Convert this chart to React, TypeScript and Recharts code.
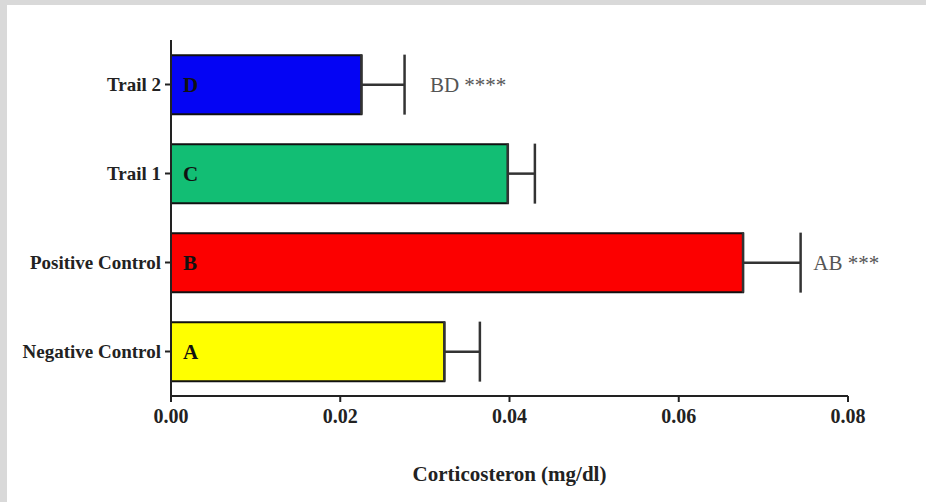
import React from 'react';
import { BarChart, Bar, XAxis, YAxis, ErrorBar, LabelList, Cell, Label } from 'recharts';

const categories = ['Trail 2', 'Trail 1', 'Positive Control', 'Negative Control'];
const means = [0.0225, 0.0398, 0.0676, 0.0323];
const sem = [0.0051, 0.0032, 0.0068, 0.0042];
const letters = ['D', 'C', 'B', 'A'];
const notes = ['BD ****', '', 'AB ***', ''];
const noteAt = [0.0306, 0, 0.0759, 0];
const colors = ['#0404F4', '#12BE74', '#FC0000', '#FFFF00'];
const xTicks = [0, 0.02, 0.04, 0.06, 0.08];

const FONT = '"Liberation Serif", "Times New Roman", serif';

const data = categories.map((name, i) => ({
  name,
  value: means[i],
  err: [0, sem[i]],
  letter: letters[i],
  note: notes[i],
}));

const NoteLabel = (props: any) => {
  const { x, y, width, height, value } = props;
  if (!value) return null;
  const i = notes.indexOf(value);
  if (i < 0) return null;
  const pxPerUnit = Number(width) / means[i];
  const tx = Number(x) + noteAt[i] * pxPerUnit;
  const ty = Number(y) + Number(height) / 2;
  return (
    <text x={tx} y={ty} dominantBaseline="central" fill="#555" fontSize={21} fontFamily={FONT}>
      {value}
    </text>
  );
};

export default function App() {
  return (
    <div style={{ position: 'absolute', top: 0, left: 0, width: 926, height: 502, background: '#d9d9d9' }}>
      <div style={{ position: 'absolute', top: 5, left: 7, width: 919, height: 497, background: '#ffffff' }} />
      <div style={{ position: 'absolute', top: 0, left: 0 }}>
        <BarChart
          layout="vertical"
          width={926}
          height={502}
          data={data}
          margin={{ top: 40, right: 78, bottom: 16, left: 0 }}
          barCategoryGap="17%"
        >
          <XAxis
            type="number"
            domain={[0, 0.08]}
            ticks={xTicks}
            tickFormatter={(v: number) => v.toFixed(2)}
            height={90}
            tickSize={6}
            tickMargin={7}
            axisLine={{ stroke: '#222', strokeWidth: 2 }}
            tickLine={{ stroke: '#222', strokeWidth: 2 }}
            tick={{ fill: '#222', fontSize: 20, fontWeight: 'bold', fontFamily: FONT }}
          >
            <Label
              value="Corticosteron (mg/dl)"
              position="insideBottom"
              offset={5}
              fill="#222"
              fontSize={21}
              fontWeight="bold"
              fontFamily={FONT}
            />
          </XAxis>
          <YAxis
            type="category"
            dataKey="name"
            width={171}
            tickSize={6}
            tickMargin={4}
            axisLine={{ stroke: '#222', strokeWidth: 2 }}
            tickLine={{ stroke: '#222', strokeWidth: 2 }}
            tick={{ fill: '#222', fontSize: 19, fontWeight: 'bold', fontFamily: FONT }}
          />
          <Bar dataKey="value" stroke="#111" strokeWidth={2} isAnimationActive={false}>
            {data.map((d, i) => (
              <Cell key={d.name} fill={colors[i]} />
            ))}
            <ErrorBar dataKey="err" direction="x" width={30} stroke="#333" strokeWidth={2.5} />
            <LabelList
              dataKey="letter"
              position="insideLeft"
              offset={12}
              fill="#111"
              fontSize={21}
              fontWeight="bold"
              fontFamily={FONT}
            />
            <LabelList dataKey="note" content={NoteLabel} />
          </Bar>
        </BarChart>
      </div>
    </div>
  );
}
